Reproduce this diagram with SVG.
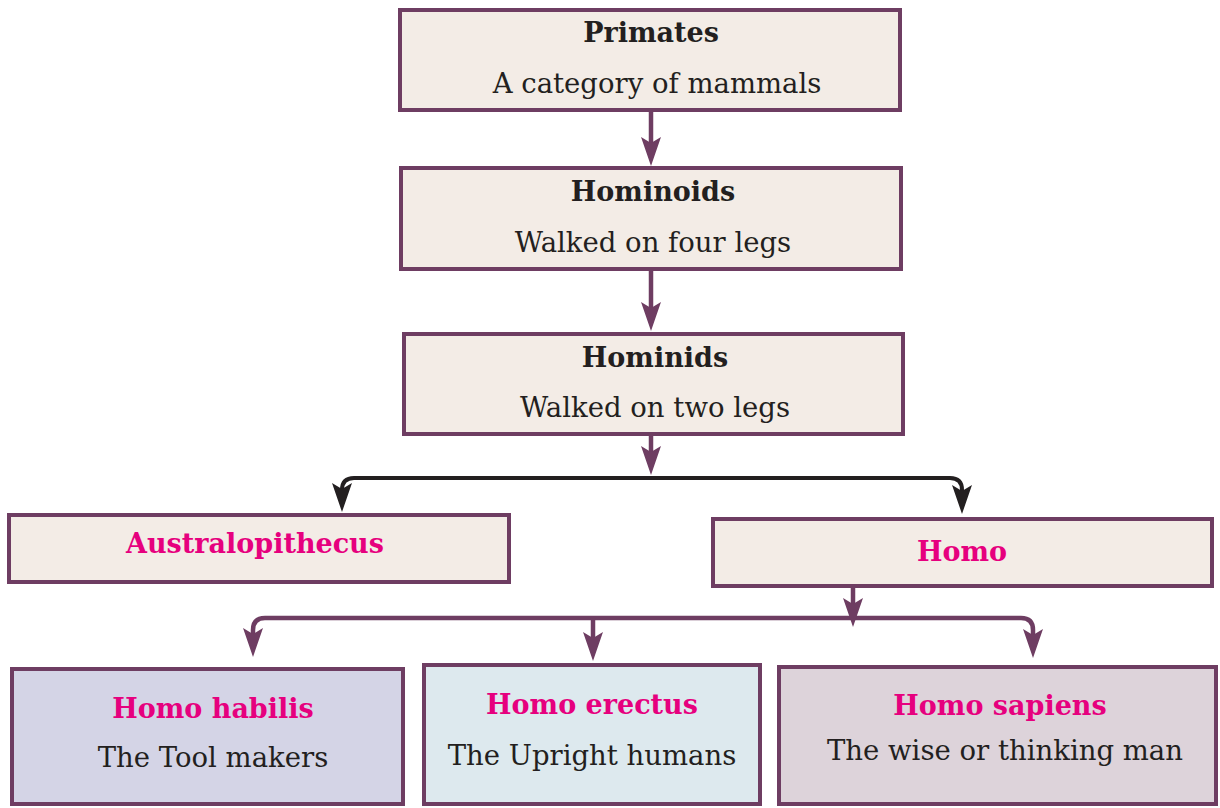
<svg xmlns="http://www.w3.org/2000/svg" width="1220" height="808" viewBox="0 0 1220 808">
<defs>
<style>
.box{stroke:#6e3d62;stroke-width:4;}
.beige{fill:#f3ece6;}
.t{font-family:"DejaVu Serif","Liberation Serif",serif;font-weight:bold;font-size:27px;fill:#231f20;text-anchor:middle;}
.p{fill:#e6007e;}
.b{font-family:"DejaVu Serif","Liberation Serif",serif;font-size:27.5px;fill:#231f20;text-anchor:middle;}
.cp{fill:none;stroke:#6e3d62;stroke-width:4.5;}
.ck{fill:none;stroke:#231f20;stroke-width:4;}
</style>
</defs>
<g id="connectors">
<path class="cp" d="M651,112 V150"/>
<path class="cp" d="M651,271 V315"/>
<path class="cp" d="M651,436 V459"/>
<path class="ck" d="M342,496 V490 Q342,478 354,478 H950 Q962,478 962,490 V498"/>
<path class="cp" d="M853,588 V611"/>
<path class="cp" d="M253,641 V630 Q253,618 265,618 H1021 Q1033,618 1033,630 V642"/>
<path class="cp" d="M593,618 V645"/>
<g fill="#6e3d62">
<path d="M641,137 L651,143 L661,137 L651,166 Z"/>
<path d="M641,302 L651,308 L661,302 L651,331 Z"/>
<path d="M641,446 L651,452 L661,446 L651,475 Z"/>
<path d="M843,598 L853,604 L863,598 L853,627 Z"/>
<path d="M243,628 L253,634 L263,628 L253,657 Z"/>
<path d="M583,632 L593,638 L603,632 L593,661 Z"/>
<path d="M1023,629 L1033,635 L1043,629 L1033,658 Z"/>
</g>
<g fill="#231f20">
<path d="M332,483 L342,489 L352,483 L342,512 Z"/>
<path d="M952,485 L962,491 L972,485 L962,514 Z"/>
</g>
</g>
<g id="primates">
<rect class="box beige" x="400" y="10" width="500" height="100"/>
<text class="t" x="651" y="42">Primates</text>
<text class="b" x="657" y="93">A category of mammals</text>
</g>
<g id="hominoids">
<rect class="box beige" x="401" y="168" width="500" height="101"/>
<text class="t" x="653" y="201">Hominoids</text>
<text class="b" x="653" y="252">Walked on four legs</text>
</g>
<g id="hominids">
<rect class="box beige" x="404" y="334" width="499" height="100"/>
<text class="t" x="655" y="367">Hominids</text>
<text class="b" x="655" y="417">Walked on two legs</text>
</g>
<g id="australopithecus">
<rect class="box beige" x="9" y="515" width="500" height="67"/>
<text class="t p" x="255" y="553">Australopithecus</text>
</g>
<g id="homo">
<rect class="box beige" x="713" y="519" width="499" height="67"/>
<text class="t p" x="962" y="561">Homo</text>
</g>
<g id="homo-habilis">
<rect class="box" fill="#d4d4e6" x="12" y="669" width="391" height="135"/>
<text class="t p" x="213" y="718">Homo habilis</text>
<text class="b" x="213" y="767">The Tool makers</text>
</g>
<g id="homo-erectus">
<rect class="box" fill="#dde9ee" x="424" y="665" width="336" height="139"/>
<text class="t p" x="592" y="714">Homo erectus</text>
<text class="b" x="592" y="765">The Upright humans</text>
</g>
<g id="homo-sapiens">
<rect class="box" fill="#ddd3da" x="779" y="667" width="437" height="137"/>
<text class="t p" x="1000" y="715">Homo sapiens</text>
<text class="b" x="1005" y="760">The wise or thinking man</text>
</g>
</svg>
